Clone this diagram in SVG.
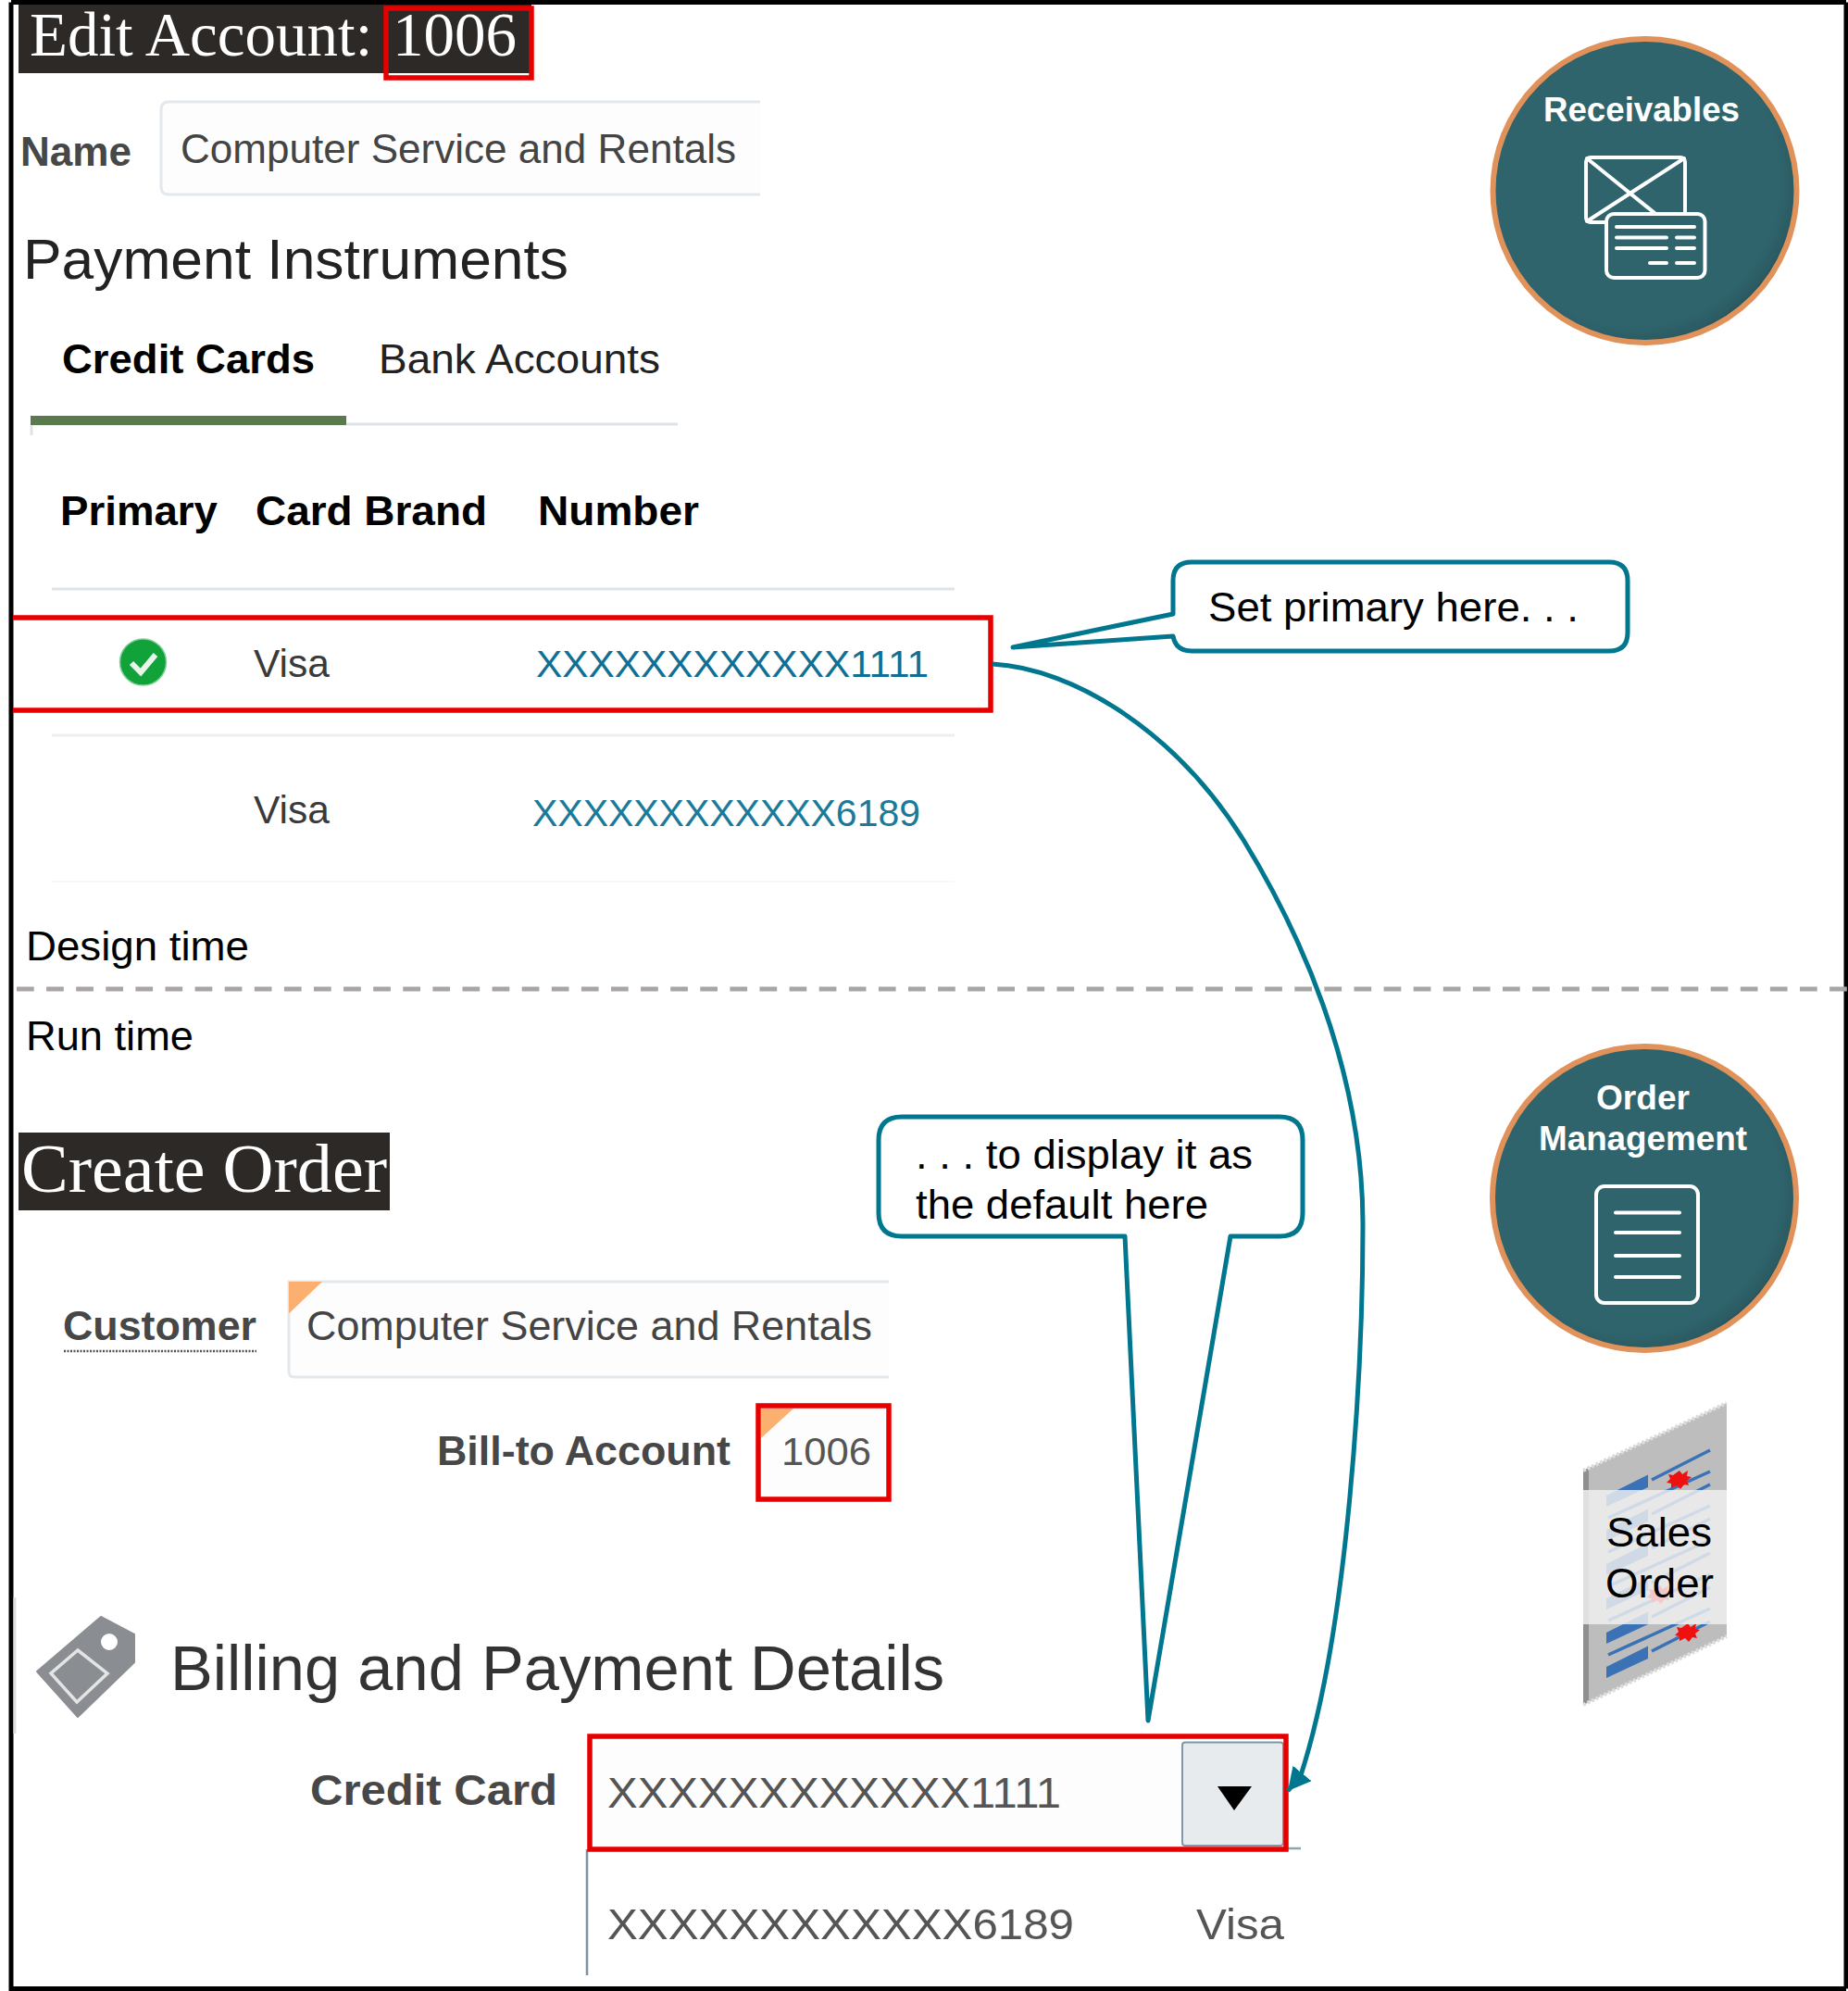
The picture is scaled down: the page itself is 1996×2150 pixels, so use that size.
<svg xmlns="http://www.w3.org/2000/svg" width="1996" height="2150" viewBox="0 0 1996 2150">
<style>
text{font-family:"Liberation Sans",Arial,sans-serif}
.serif{font-family:"Liberation Serif","Times New Roman",serif;fill:#fff}
.red{fill:none;stroke:#e60000;stroke-width:5.5}
.box{fill:#fdfdfd;stroke:#e3e8ec;stroke-width:3}
.hr{stroke:#dde3ea;stroke-width:3;fill:none}
.b{font-weight:700}
.lbl{font-weight:700;fill:#474747;font-size:44px}
.val{fill:#444;font-size:44px}
.hd{font-weight:700;fill:#000;font-size:45px}
.lnk{fill:#0f6f95;font-size:41px}
.note{fill:#000;font-size:45px}
.call{fill:#fff;stroke:#00778f;stroke-width:5;stroke-linejoin:round}
.wht{fill:none;stroke:#fff;stroke-linecap:round}
.cap{fill:#fff;font-weight:700;font-size:37px}
.ring{fill:url(#disc);stroke:#e0925a;stroke-width:6}
.tri{fill:#fbb070}
.bl{stroke:#3b72b5;stroke-width:3.500;fill:none}
</style>
<defs>
<radialGradient id="disc" cx="0.46" cy="0.46" r="0.58">
<stop offset="0.84" stop-color="#2f646c"/><stop offset="0.93" stop-color="#2b5a62"/><stop offset="1" stop-color="#14282c"/>
</radialGradient>
<marker id="head" markerUnits="userSpaceOnUse" markerWidth="30" markerHeight="30" refX="24.500" refY="13" orient="auto">
<path d="M0 0L24.500 13L0 26Z" fill="#00778f"/>
</marker>
<clipPath id="sheet"><path d="M1710 1588L1865 1515V1767L1710 1841Z"/></clipPath>
<g id="row">
<path d="M1780 1592.500L1735 1615V1627L1780 1606Z" fill="#3b72b5"/>
<path class="bl" d="M1784 1598L1847 1566"/>
</g>
<path id="splat" d="M1-10L4-6L10-10L9-4L14-3L9 1L11 6L6 5L2 10L-2 6L-8 9L-8 4L-13 3L-9-1L-11-6L-6-5Z" fill="#f01010"/>
</defs>

<rect width="1996" height="2150" fill="#fff"/>

<g id="frame">
<path d="M12 2.500H1994M12 2.500V2147.500H1994M1994 2.500V2147.500" fill="none" stroke="#000" stroke-width="5"/>
</g>

<g id="divider">
<line x1="18" y1="1068" x2="1996" y2="1068" stroke="#a9a5a5" stroke-width="5" stroke-dasharray="18.700 13.400"/>
<text class="note" x="28" y="1037" textLength="241" lengthAdjust="spacingAndGlyphs">Design time</text>
<text class="note" x="28" y="1134" textLength="181" lengthAdjust="spacingAndGlyphs">Run time</text>
</g>

<g id="edit-account-title">
<rect x="20" y="5" width="554" height="74" fill="#2d2926"/>
<text class="serif" x="32" y="60" font-size="67">Edit Account: <tspan x="424">1006</tspan></text>
<rect class="red" x="417" y="9" width="157" height="75"/>
</g>

<g id="name-field">
<text class="lbl" x="22" y="179" textLength="120" lengthAdjust="spacingAndGlyphs">Name</text>
<path class="box" d="M821 110H182Q174 110 174 118V202Q174 210 182 210H821"/>
<text class="val" x="195" y="176" textLength="600" lengthAdjust="spacingAndGlyphs">Computer Service and Rentals</text>
</g>

<g id="payment-instruments">
<text x="25" y="301" font-size="62" fill="#222" textLength="589" lengthAdjust="spacingAndGlyphs">Payment Instruments</text>
<text class="b" x="67" y="403" font-size="45" fill="#000" textLength="273" lengthAdjust="spacingAndGlyphs">Credit Cards</text>
<text x="409" y="403" font-size="45" fill="#222" textLength="304" lengthAdjust="spacingAndGlyphs">Bank Accounts</text>
<path class="hr" d="M34 458H732M34 459V470"/>
<rect x="33" y="449" width="341" height="10" fill="#5a7a4d"/>
</g>

<g id="card-table">
<text class="hd" x="65" y="567" textLength="170" lengthAdjust="spacingAndGlyphs">Primary</text>
<text class="hd" x="276" y="567" textLength="250" lengthAdjust="spacingAndGlyphs">Card Brand</text>
<text class="hd" x="581" y="567" textLength="174" lengthAdjust="spacingAndGlyphs">Number</text>
<line class="hr" x1="56" y1="636" x2="1031" y2="636"/>
<circle cx="154.500" cy="715" r="25" fill="#12a23a" stroke="#7fcf97" stroke-width="1.500"/>
<path d="M142 716L152 726L168 707" fill="none" stroke="#e8f6ec" stroke-width="6"/>
<text x="274" y="731" font-size="42.500" fill="#3a3a3a">Visa</text>
<text class="lnk" x="579" y="731" textLength="424" lengthAdjust="spacingAndGlyphs">XXXXXXXXXXXX1111</text>
<line x1="56" y1="794" x2="1031" y2="794" stroke="#eeeeee" stroke-width="3"/>
<text x="274" y="889" font-size="42.500" fill="#3a3a3a">Visa</text>
<text x="575" y="892" font-size="41" fill="#1a7a99" textLength="419" lengthAdjust="spacingAndGlyphs">XXXXXXXXXXXX6189</text>
<line x1="56" y1="952" x2="1031" y2="952" stroke="#f8f8f8" stroke-width="2"/>
<path class="red" d="M14 667H1070V767H14"/>
</g>

<g id="receivables">
<circle class="ring" cx="1776.500" cy="206" r="164"/>
<text class="cap" x="1667" y="131" textLength="212" lengthAdjust="spacingAndGlyphs">Receivables</text>
<rect class="wht" x="1713" y="170" width="107" height="70" rx="5" stroke-width="4"/>
<path class="wht" stroke-width="4" d="M1714 171L1792 234M1819 171L1714 239"/>
<rect x="1735" y="231" width="106.500" height="69" rx="8" fill="#2f646c" stroke="#fff" stroke-width="4"/>
<path class="wht" stroke-width="4" d="M1746 245H1830M1746 256.500H1800M1811 256.500H1830M1746 268H1800M1811 268H1830M1782 284H1800M1811 284H1830"/>
</g>

<g id="order-management">
<circle class="ring" cx="1776" cy="1294" r="164"/>
<text class="cap" x="1724" y="1198" textLength="101" lengthAdjust="spacingAndGlyphs">Order</text>
<text class="cap" x="1662" y="1242" textLength="225" lengthAdjust="spacingAndGlyphs">Management</text>
<rect class="wht" x="1724" y="1281" width="110" height="126" rx="9" stroke-width="4"/>
<path class="wht" stroke-width="4" d="M1745 1309.500H1814M1745 1331H1814M1745 1356H1814M1745 1379H1814"/>
</g>

<g id="sales-order">
<path d="M1710 1588L1865 1515V1767L1710 1841Z" fill="#bdbdbd"/>
<g clip-path="url(#sheet)">
<rect x="1710" y="1500" width="6" height="350" fill="#8f8f8f"/>
<use href="#row"/>
<use href="#row" y="37"/>
<use href="#row" y="74"/>
<use href="#row" y="111"/>
<use href="#row" y="148"/>
<use href="#row" y="185"/>
<path class="bl" d="M1737 1639L1847 1589M1737 1676L1847 1626M1737 1713L1847 1663M1737 1750L1847 1700M1737 1787L1847 1737"/>
<use href="#splat" x="1813" y="1598"/>
<use href="#splat" x="1792" y="1722"/>
<use href="#splat" x="1822" y="1763"/>
</g>
<path d="M1710 1588L1865 1515M1710 1841L1865 1767" fill="none" stroke="#dcdcdc" stroke-width="4" stroke-dasharray="3 2"/>
<rect x="1710" y="1609" width="155" height="145" fill="#f1f1f1" opacity="0.82"/>
<text class="note" x="1735" y="1670" textLength="114" lengthAdjust="spacingAndGlyphs">Sales</text>
<text class="note" x="1734" y="1725" textLength="117" lengthAdjust="spacingAndGlyphs">Order</text>
</g>

<g id="create-order-title">
<rect x="20" y="1223" width="401" height="84" fill="#2d2926"/>
<text class="serif" x="23" y="1287" font-size="74" textLength="395" lengthAdjust="spacingAndGlyphs">Create Order</text>
</g>

<g id="customer-field">
<text class="lbl" x="68" y="1447" textLength="209" lengthAdjust="spacingAndGlyphs">Customer</text>
<line x1="69" y1="1459" x2="277" y2="1459" stroke="#555" stroke-width="2.500" stroke-dasharray="2 1.500"/>
<path class="box" d="M960 1384H312V1481Q312 1487 318 1487H960"/>
<path class="tri" d="M312 1384H348L312 1418.500Z"/>
<text class="val" x="331" y="1447" textLength="611" lengthAdjust="spacingAndGlyphs">Computer Service and Rentals</text>
</g>

<g id="bill-to-field">
<text class="lbl" x="472" y="1582" textLength="317" lengthAdjust="spacingAndGlyphs">Bill-to Account</text>
<rect x="819" y="1518" width="141" height="101" fill="#fdfdfd"/>
<path class="tri" d="M822 1521H857L822 1553Z"/>
<text x="844" y="1582" font-size="43" fill="#555" textLength="97" lengthAdjust="spacingAndGlyphs">1006</text>
<rect class="red" x="819" y="1518" width="141" height="101"/>
</g>

<g id="billing-heading">
<line x1="16" y1="1725" x2="16" y2="1872" stroke="#dedede" stroke-width="3"/>
<path d="M109 1746L145 1765V1795L84 1854L40 1805Z" fill="#8a8e92" stroke="#8a8e92" stroke-width="2" stroke-linejoin="round"/>
<circle cx="118" cy="1773" r="9" fill="#fff"/>
<path d="M84 1782L116 1807L83 1838L55 1807Z" fill="none" stroke="#e4e4e4" stroke-width="3.500"/>
<text x="184" y="1825" font-size="68" fill="#333" textLength="836" lengthAdjust="spacingAndGlyphs">Billing and Payment Details</text>
</g>

<g id="credit-card-field">
<text class="lbl" x="335" y="1949" style="font-size:46px" textLength="267" lengthAdjust="spacingAndGlyphs">Credit Card</text>
<rect x="637" y="1875" width="640" height="121" fill="#fdfdfd"/>
<line x1="637" y1="1996" x2="1405" y2="1996" stroke="#8fa3b0" stroke-width="2.500"/>
<line x1="634" y1="1997" x2="634" y2="2133" stroke="#7d93a5" stroke-width="2.500"/>
<text x="656" y="1952" font-size="47" fill="#555" textLength="490" lengthAdjust="spacingAndGlyphs">XXXXXXXXXXXX1111</text>
<rect x="1277" y="1881.500" width="109" height="111.500" rx="3" fill="#e7ebed" stroke="#7f97a8" stroke-width="2"/>
<path d="M1315 1929H1352L1333 1955Z" fill="#000"/>
<rect class="red" x="637" y="1875" width="752" height="122"/>
<text x="656" y="2094" font-size="47" fill="#555" textLength="504" lengthAdjust="spacingAndGlyphs">XXXXXXXXXXXX6189</text>
<text x="1292" y="2094" font-size="47" fill="#555" textLength="95" lengthAdjust="spacingAndGlyphs">Visa</text>
</g>

<g id="connectors">
<path d="M1072 717C1160 722 1270 790 1343 907C1400 1000 1472 1150 1472 1322C1472 1480 1456 1760 1405 1917L1391 1934" fill="none" stroke="#00778f" stroke-width="5" marker-end="url(#head)"/>
</g>

<g id="callout-set-primary">
<path class="call" d="M1287 607H1738Q1758 607 1758 627V683Q1758 703 1738 703H1287Q1270 703 1267 687L1094 699L1267 663V627Q1267 607 1287 607Z"/>
<text class="note" x="1305" y="671" textLength="400" lengthAdjust="spacingAndGlyphs">Set primary here. . .</text>
</g>

<g id="callout-default">
<path class="call" d="M974 1206H1382Q1407 1206 1407 1231V1310Q1407 1335 1382 1335H1329L1240 1858L1215 1335H974Q949 1335 949 1310V1231Q949 1206 974 1206Z"/>
<text class="note" x="989" y="1262" textLength="364" lengthAdjust="spacingAndGlyphs">. . . to display it as</text>
<text class="note" x="989" y="1316" textLength="316" lengthAdjust="spacingAndGlyphs">the default here</text>
</g>
</svg>
